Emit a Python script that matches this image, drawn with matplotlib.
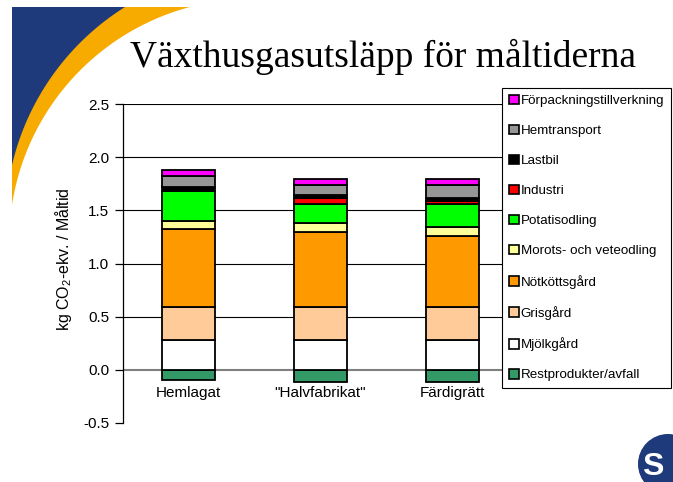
import numpy as np
import matplotlib
matplotlib.use("Agg")
import matplotlib.pyplot as plt
from matplotlib.patches import Patch, Polygon, Circle
import matplotlib.transforms as mtransforms

plt.rcParams['font.family'] = ['Liberation Sans', 'DejaVu Sans']
plt.rcParams['mathtext.fontset'] = 'custom'
plt.rcParams['mathtext.rm'] = 'Liberation Sans'
plt.rcParams['mathtext.it'] = 'Liberation Sans'

# ---------------- data ----------------
categories = ["Hemlagat", '"Halvfabrikat"', "Färdigrätt"]
series_names = ["Restprodukter/avfall", "Mjölkgård", "Grisgård", "Nötköttsgård",
                "Morots- och veteodling", "Potatisodling", "Industri", "Lastbil",
                "Hemtransport", "Förpackningstillverkning"]
restprodukter = [-0.10, -0.11, -0.11]
mjolkgard = [0.28, 0.28, 0.28]
grisgard = [0.31, 0.31, 0.31]
notkottsgard = [0.735, 0.71, 0.67]
morots_veteodling = [0.078, 0.084, 0.084]
potatisodling = [0.275, 0.175, 0.22]
industri = [0.0, 0.056, 0.028]
lastbil = [0.044, 0.03, 0.025]
hemtransport = [0.097, 0.094, 0.12]
forpackning = [0.06, 0.053, 0.053]
colors = ["#339966", "#FFFFFF", "#FFCC99", "#FF9900", "#FFFF99",
          "#00FF00", "#FF0000", "#000000", "#969696", "#FF00FF"]
yticks = [-0.5, 0.0, 0.5, 1.0, 1.5, 2.0, 2.5]
ytick_labels = ["-0.5", "0.0", "0.5", "1.0", "1.5", "2.0", "2.5"]

series = [restprodukter, mjolkgard, grisgard, notkottsgard, morots_veteodling,
          potatisodling, industri, lastbil, hemtransport, forpackning]

W, H = 673, 482
fig = plt.figure(figsize=(W / 100, H / 100), dpi=100)
fig.patch.set_facecolor("white")

# ---------------- decoration (slide background) ----------------
bg = fig.add_axes([0, 0, 1, 1], zorder=-5)
bg.set_xlim(0, W)
bg.set_ylim(H, 0)
bg.axis("off")


def corner_poly(cx, cy, r, x0=12, y0=7):
    xt = cx - np.sqrt(r ** 2 - (cy - y0) ** 2)
    yl = cy - np.sqrt(r ** 2 - (cx - x0) ** 2)
    a1 = np.arctan2(y0 - cy, xt - cx)
    a2 = np.arctan2(yl - cy, x0 - cx)
    t = np.linspace(a1, a2, 80)
    pts = [(x0, y0)] + list(zip(cx + r * np.cos(t), cy + r * np.sin(t))) + [(x0, yl)]
    return pts


bg.add_patch(Polygon(corner_poly(252.5, 242.2, 243.4), closed=True,
                     facecolor="#F7AA00", edgecolor="none"))
bg.add_patch(Polygon(corner_poly(260.4, 223.2, 255.1), closed=True,
                     facecolor="#1E3A7B", edgecolor="none"))
bg.add_patch(Circle((668, 464), 30, facecolor="#1E3A7B", edgecolor="none"))
bg.text(653, 467, "S", color="white", fontsize=23, fontweight="bold",
        ha="center", va="center")

fig.text(383 / W, 1 - 57 / H, "Växthusgasutsläpp för måltiderna",
         family="Liberation Serif", fontsize=27, ha="center", va="center")

# ---------------- chart ----------------
ax = fig.add_axes([123 / W, 1 - 423 / H, (518 - 123) / W, (423 - 104) / H])
x = np.arange(len(categories))
pos_bottom = np.zeros(len(categories))
for name, vals, col in zip(series_names, series, colors):
    vals = np.array(vals, dtype=float)
    if np.all(vals < 0):
        ax.bar(x, vals, width=0.4, color=col, edgecolor="black", linewidth=1.3,
               zorder=3, label=name)
    else:
        ax.bar(x, vals, width=0.4, bottom=pos_bottom, color=col,
               edgecolor="black", linewidth=1.3, zorder=3, label=name)
        pos_bottom += vals

ax.set_xlim(-0.5, 2.5)
ax.set_ylim(-0.5, 2.5)
ax.set_yticks(yticks)
ax.set_yticklabels(ytick_labels, fontsize=11)
for yv in yticks:
    if yv > 0:
        ax.axhline(yv, color="black", linewidth=0.8, zorder=1)
ax.axhline(0, color="#808080", linewidth=1.5, zorder=2)
ax.set_xticks([])
for s in ["top", "right", "bottom"]:
    ax.spines[s].set_visible(False)
ax.spines["left"].set_linewidth(0.9)
ax.tick_params(axis="y", length=6, width=0.9, pad=4)

off = mtransforms.offset_copy(ax.transData, fig=fig, x=0, y=-11.5, units="points")
for xi, lab in zip(x, categories):
    ax.text(xi, 0, lab, transform=off, ha="center", va="top", fontsize=11)

fig.text(64 / W, 1 - 259 / H, r"kg CO$_2$-ekv. / Måltid", rotation=90,
         ha="center", va="center", fontsize=11.5)

# ---------------- legend ----------------
handles = [Patch(facecolor=c, edgecolor="black", linewidth=1.2) for c in colors]
leg = fig.legend(handles[::-1], series_names[::-1], loc="upper left",
                 bbox_to_anchor=(502 / W, 1 - 88 / H), borderaxespad=0,
                 fontsize=9.6, handlelength=0.75, handleheight=0.75,
                 handletextpad=0.15, labelspacing=1.31, borderpad=0.5,
                 fancybox=False, frameon=True, framealpha=1)
leg.get_frame().set_edgecolor("black")
leg.get_frame().set_linewidth(0.8)

fig.savefig("out.png", dpi=100)
